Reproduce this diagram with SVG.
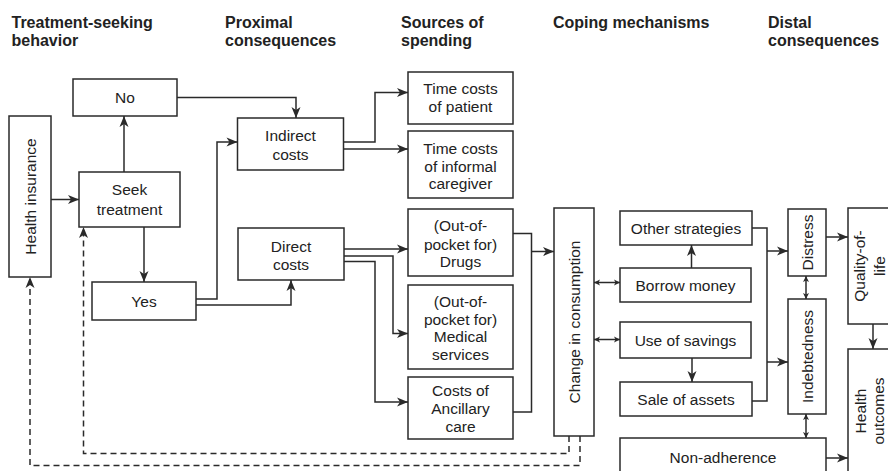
<svg xmlns="http://www.w3.org/2000/svg" width="888" height="471" viewBox="0 0 888 471">
<defs>
<marker id="a" viewBox="-12 -6 13 12" refX="0" refY="0" markerWidth="13" markerHeight="12" markerUnits="userSpaceOnUse" orient="auto"><path d="M0,0 L-11,-4.5 L-8,0 L-11,4.5 Z" fill="#2a2a2a"/></marker>
<marker id="s" viewBox="-7 -4 8 8" refX="0" refY="0" markerWidth="8" markerHeight="8" markerUnits="userSpaceOnUse" orient="auto-start-reverse"><path d="M0,0 L-6,-3 L-4.5,0 L-6,3 Z" fill="#2a2a2a"/></marker>
<style>
rect{fill:#fff;stroke:#2a2a2a;stroke-width:1.5}
.c path{fill:none;stroke:#2a2a2a;stroke-width:1.5}
.c .ar{marker-end:url(#a)}
.c .db{marker-start:url(#s);marker-end:url(#s)}
.c .d{stroke-dasharray:6 4}
text{font-family:"Liberation Sans",Arial,sans-serif;fill:#222}
.t{font-size:15.5px;text-anchor:middle}
.h{font-size:16px;font-weight:bold}
</style>
</defs>
<g id="headers" class="h">
<text x="11.5" y="27.5" class="h">Treatment-seeking<tspan x="11.5" y="45.5">behavior</tspan></text>
<text x="225" y="27.5" class="h">Proximal<tspan x="225" y="45.5">consequences</tspan></text>
<text x="401" y="27.5" class="h">Sources of<tspan x="401" y="45.5">spending</tspan></text>
<text x="553" y="27.5" class="h">Coping mechanisms</text>
<text x="768" y="27.5" class="h">Distal<tspan x="768" y="45.5">consequences</tspan></text>
</g>
<g id="connectors" class="c">
<path class="ar" d="M51,199.5 H79"/>
<path class="ar" d="M124,172 V116"/>
<path class="ar" d="M177,97.5 H296 V118"/>
<path class="ar" d="M144,227 V282"/>
<path class="ar" d="M196,299 H217 V142 H237.5"/>
<path class="ar" d="M196,305 H291 V280"/>
<path class="ar" d="M343.5,142 H375 V92.5 H408"/>
<path class="ar" d="M343.5,149 H408"/>
<path class="ar" d="M344,249 H408"/>
<path class="ar" d="M344,256 H393 V333.5 H408"/>
<path class="ar" d="M344,261.5 H375 V402 H408"/>
<path d="M513,233.5 H531.5 V412 H513"/>
<path class="ar" d="M531.5,251.5 H554"/>
<path class="db" d="M594,282.5 H620"/>
<path class="db" d="M594,339.5 H620"/>
<path class="ar" d="M691.5,268 V245"/>
<path class="ar" d="M692,358 V382"/>
<path d="M752,228 H767 V401 H752"/>
<path class="ar" d="M767,251 H788"/>
<path class="ar" d="M767,362 H788"/>
<path class="db" d="M806,276 V299"/>
<path class="db" d="M806,414 V438"/>
<path class="ar" d="M826,237 H848"/>
<path class="ar" d="M873,324 V349"/>
<path class="ar" d="M826,458 H848"/>
<path class="ar d" d="M569,436 V453.5 H83.5 V227"/>
<path class="ar d" d="M580,436 V465.5 H30 V277"/>
</g>
<g id="health-insurance"><rect x="9" y="116" width="42" height="161"/><text class="t" transform="translate(30,196.5) rotate(-90)" y="5.5">Health insurance</text></g>
<g id="no"><rect x="73" y="79" width="104" height="37"/><text class="t" x="125" y="103">No</text></g>
<g id="seek-treatment"><rect x="79" y="172" width="101" height="55"/><text class="t" x="129.5" y="195">Seek<tspan x="129.5" y="214.5">treatment</tspan></text></g>
<g id="yes"><rect x="92" y="282" width="104" height="38"/><text class="t" x="144" y="306.5">Yes</text></g>
<g id="indirect-costs"><rect x="237.5" y="118" width="106" height="52"/><text class="t" x="290.5" y="140.5">Indirect<tspan x="290.5" y="159.5">costs</tspan></text></g>
<g id="direct-costs"><rect x="238" y="228" width="106" height="52"/><text class="t" x="291" y="251.5">Direct<tspan x="291" y="269.5">costs</tspan></text></g>
<g id="time-patient"><rect x="408" y="72" width="105" height="52"/><text class="t" x="460.5" y="94">Time costs<tspan x="460.5" y="112.2">of patient</tspan></text></g>
<g id="time-caregiver"><rect x="408" y="131" width="105" height="67"/><text class="t" x="460.5" y="154">Time costs<tspan x="460.5" y="171.5">of informal</tspan><tspan x="460.5" y="189">caregiver</tspan></text></g>
<g id="drugs"><rect x="408" y="209" width="105" height="67"/><text class="t" x="460.5" y="230.5">(Out-of-<tspan x="460.5" y="249.5">pocket for)</tspan><tspan x="460.5" y="267">Drugs</tspan></text></g>
<g id="medical"><rect x="408" y="285" width="105" height="84"/><text class="t" x="460.5" y="307">(Out-of-<tspan x="460.5" y="325">pocket for)</tspan><tspan x="460.5" y="342">Medical</tspan><tspan x="460.5" y="359.5">services</tspan></text></g>
<g id="ancillary"><rect x="408" y="377" width="105" height="62"/><text class="t" x="460.5" y="395.5">Costs of<tspan x="460.5" y="413.8">Ancillary</tspan><tspan x="460.5" y="431.5">care</tspan></text></g>
<g id="change-consumption"><rect x="554" y="208" width="40" height="228"/><text class="t" transform="translate(574,322) rotate(-90)" y="5.5">Change in consumption</text></g>
<g id="other-strategies"><rect x="620" y="211" width="132" height="34"/><text class="t" x="686" y="233.5">Other strategies</text></g>
<g id="borrow-money"><rect x="620" y="268" width="131" height="34"/><text class="t" x="685.5" y="290.5">Borrow money</text></g>
<g id="use-savings"><rect x="620" y="322" width="131" height="36"/><text class="t" x="685.5" y="345.5">Use of savings</text></g>
<g id="sale-assets"><rect x="620" y="382" width="132" height="34"/><text class="t" x="686" y="404.5">Sale of assets</text></g>
<g id="distress"><rect x="788" y="209" width="38" height="67"/><text class="t" transform="translate(807,242.5) rotate(-90)" y="5.5">Distress</text></g>
<g id="indebtedness"><rect x="788" y="299" width="38" height="115"/><text class="t" transform="translate(807,356.5) rotate(-90)" y="5.5">Indebtedness</text></g>
<g id="non-adherence"><rect x="620" y="438" width="206" height="42"/><text class="t" x="723" y="462.5">Non-adherence</text></g>
<g id="quality-of-life"><rect x="848" y="208" width="46" height="116"/><text class="t" transform="translate(869,266) rotate(-90)" y="-4.5">Quality-of-<tspan x="0" y="15.5">life</tspan></text></g>
<g id="health-outcomes"><rect x="848" y="349" width="46" height="130"/><text class="t" transform="translate(869,411) rotate(-90)" y="-3.5">Health<tspan x="0" y="14.5">outcomes</tspan></text></g>
</svg>
